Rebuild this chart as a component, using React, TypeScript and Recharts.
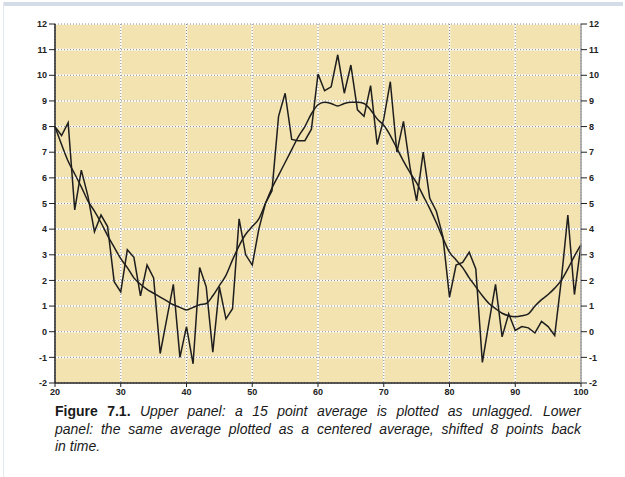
import React from 'react';
import { LineChart, Line, XAxis, YAxis, CartesianGrid } from 'recharts';

const xValues = [20,21,22,23,24,25,26,27,28,29,30,31,32,33,34,35,36,37,38,39,40,41,42,43,44,45,46,47,48,49,50,51,52,53,54,55,56,57,58,59,60,61,62,63,64,65,66,67,68,69,70,71,72,73,74,75,76,77,78,79,80,81,82,83,84,85,86,87,88,89,90,91,92,93,94,95,96,97,98,99,100];

const rawSeries = [8.0,7.65,8.15,4.75,6.3,5.3,3.9,4.55,4.1,1.95,1.55,3.2,2.9,1.4,2.6,2.1,-0.85,0.5,1.85,-1.0,0.2,-1.25,2.5,1.75,-0.8,1.75,0.5,0.9,4.4,3.0,2.6,4.0,5.0,5.5,8.4,9.3,7.5,7.45,7.45,7.9,10.05,9.4,9.55,10.8,9.3,10.4,8.65,8.4,9.6,7.3,8.3,9.75,7.0,8.2,6.4,5.1,7.0,5.2,4.7,3.7,1.35,2.6,2.7,3.1,2.45,-1.2,0.35,1.85,-0.2,0.7,0.05,0.2,0.15,-0.05,0.4,0.2,-0.15,2.0,4.55,1.45,3.4];

const averageSeries = [8.0,7.3,6.65,6.15,5.65,5.1,4.7,4.25,3.75,3.3,2.85,2.5,2.1,1.85,1.65,1.5,1.35,1.2,1.05,0.95,0.85,0.95,1.05,1.1,1.4,1.8,2.2,2.8,3.35,3.8,4.1,4.4,5.0,5.6,6.1,6.6,7.1,7.6,8.0,8.5,8.85,8.95,8.9,8.8,8.9,8.95,8.95,8.9,8.65,8.3,8.05,7.65,7.15,6.65,6.2,5.8,5.3,4.8,4.25,3.65,3.1,2.8,2.5,2.1,1.75,1.4,1.1,0.9,0.72,0.62,0.58,0.62,0.7,1.0,1.25,1.45,1.7,2.0,2.45,2.95,3.4];

const xTicks = [20,30,40,50,60,70,80,90,100];
const yTicks = [-2,-1,0,1,2,3,4,5,6,7,8,9,10,11,12];

const captionBold = 'Figure 7.1.';
const captionLines = [
  'Upper panel: a 15 point average is plotted as unlagged. Lower',
  'panel: the same average plotted as a centered average, shifted 8 points back',
  'in time.',
];

const data = xValues.map((x, i) => ({ x, raw: rawSeries[i], avg: averageSeries[i] }));

const tickStyle = { fontSize: 9, fill: '#222', fontFamily: 'Liberation Sans, Arial, sans-serif', fontWeight: 700 };

export default function App() {
  return (
    <div style={{ position: 'absolute', left: 0, top: 0, width: 625, height: 477, background: '#fff', overflow: 'hidden' }}>
      <div style={{ position: 'absolute', left: 3, top: 2, width: 620, height: 4, background: '#d4dce8' }} />
      <div style={{ position: 'absolute', left: 3, top: 2, width: 1, height: 475, background: '#e3e8ef' }} />
      <div style={{ position: 'absolute', left: 0, top: 0 }}>
        <LineChart width={625} height={410} data={data} margin={{ top: 24, right: 19, left: 30, bottom: 7 }}>
          <CartesianGrid yAxisId="l" fill="#f2e3b0" fillOpacity={1} stroke="#ffffff" strokeWidth={1.6} horizontalValues={yTicks} verticalValues={xTicks} />
          <CartesianGrid yAxisId="l" stroke="#8a8a8a" strokeDasharray="1 2" strokeWidth={1} horizontalValues={yTicks} verticalValues={xTicks} />
          <XAxis
            dataKey="x"
            type="number"
            domain={[20, 100]}
            ticks={xTicks}
            interval={0}
            height={20}
            tick={tickStyle}
            tickSize={4}
            tickMargin={2}
            axisLine={{ stroke: '#222', strokeWidth: 1.5 }}
            tickLine={{ stroke: '#222' }}
          />
          <YAxis
            yAxisId="l"
            orientation="left"
            type="number"
            domain={[-2, 12]}
            ticks={yTicks}
            interval={0}
            width={25}
            tick={tickStyle}
            tickSize={6}
            tickMargin={2}
            axisLine={{ stroke: '#222', strokeWidth: 1.5 }}
            tickLine={{ stroke: '#222' }}
          />
          <YAxis
            yAxisId="r"
            orientation="right"
            type="number"
            domain={[-2, 12]}
            ticks={yTicks}
            interval={0}
            width={25}
            tick={tickStyle}
            tickSize={6}
            tickMargin={2}
            axisLine={{ stroke: '#9a9a9a', strokeWidth: 1.5 }}
            tickLine={{ stroke: '#222' }}
          />
          <Line yAxisId="l" type="linear" dataKey="raw" stroke="#1e1e1e" strokeWidth={1.5} dot={false} isAnimationActive={false} />
          <Line yAxisId="r" type="monotone" dataKey="avg" stroke="#1e1e1e" strokeWidth={1.5} dot={false} isAnimationActive={false} />
        </LineChart>
      </div>
      <div
        style={{
          position: 'absolute',
          left: 55,
          top: 403,
          width: 526,
          fontFamily: 'Liberation Sans, Arial, sans-serif',
          fontSize: 14,
          lineHeight: '17.5px',
          color: '#1a1a1a',
        }}
      >
        <div style={{ textAlign: 'justify', textAlignLast: 'justify', whiteSpace: 'nowrap' as const }}>
          <b>{captionBold}</b> <i>{captionLines[0]}</i>
        </div>
        <div style={{ textAlign: 'justify', textAlignLast: 'justify', whiteSpace: 'nowrap' as const }}>
          <i>{captionLines[1]}</i>
        </div>
        <div>
          <i>{captionLines[2]}</i>
        </div>
      </div>
    </div>
  );
}
